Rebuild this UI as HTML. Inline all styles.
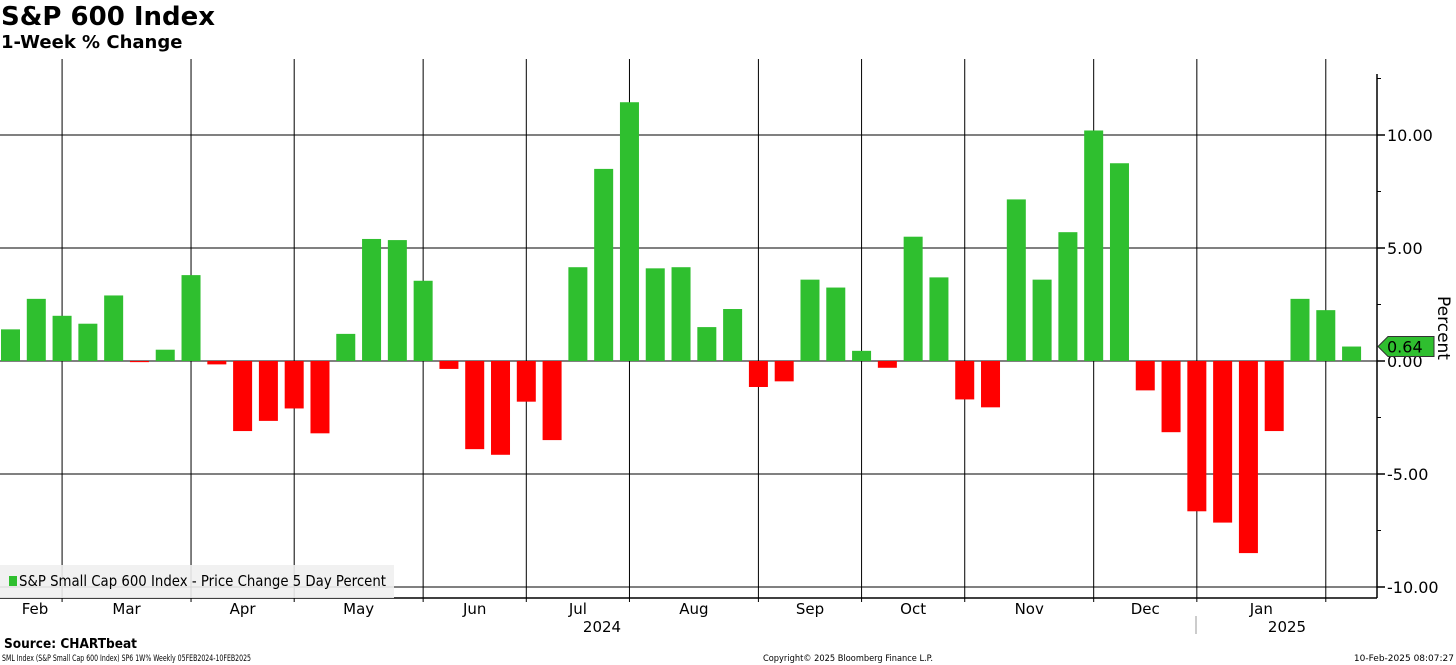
<!DOCTYPE html>
<html><head><meta charset="utf-8"><style>
body{margin:0;background:#fff;font-family:"Liberation Sans","DejaVu Sans",sans-serif;}
#wrap{position:relative;width:1456px;height:665px;overflow:hidden;}
.t{position:absolute;white-space:nowrap;}
</style></head><body>
<div id="wrap">
<div class="t" style="left:1px;top:2px;font-size:26px;font-weight:bold;font-family:'DejaVu Sans',sans-serif;">S&amp;P 600 Index</div>
<div class="t" style="left:1px;top:32px;font-size:18px;font-weight:bold;font-family:'DejaVu Sans',sans-serif;">1-Week % Change</div>
<svg id="svg" width="1456" height="665" style="position:absolute;left:0;top:0"></svg>
</div>
<script>
const values=[1.4,2.75,2.0,1.65,2.9,-0.05,0.5,3.8,-0.15,-3.1,-2.65,-2.1,-3.2,1.2,5.4,5.35,3.55,-0.35,-3.9,-4.15,-1.8,-3.5,4.15,8.5,11.45,4.1,4.15,1.5,2.3,-1.15,-0.9,3.6,3.25,0.45,-0.3,5.5,3.7,-1.7,-2.05,7.15,3.6,5.7,10.2,8.75,-1.3,-3.15,-6.65,-7.15,-8.5,-3.1,2.75,2.25,0.64];
const monthStarts=[2,7,11,16,20,24,29,33,37,42,46,51];
const monthLabels=["Feb","Mar","Apr","May","Jun","Jul","Aug","Sep","Oct","Nov","Dec","Jan"];
const yTicks=[10,5,0,-5,-10];
const lastValue="0.64";
const NS="http://www.w3.org/2000/svg";
const svg=document.getElementById('svg');
const plotL=0,plotR=1377,plotT=59,plotB=598;
const y=v=>361-v*22.6;
const xc=i=>10.5+i*25.79;
function mk(tag,attrs,parent){const e=document.createElementNS(NS,tag);for(const k in attrs)e.setAttribute(k,attrs[k]);(parent||svg).appendChild(e);return e;}
yTicks.forEach(v=>{
 const l=mk('line',{x1:plotL,x2:plotR,y1:y(v),y2:y(v),stroke:'#000','stroke-width':1});
 
 
 const tk=mk('line',{x1:plotR,x2:plotR+8,y1:y(v),y2:y(v),stroke:'#000','stroke-width':1.5});
 
 
 const t=mk('text',{x:plotR+10,y:y(v)+6,'font-size':16,'font-family':'DejaVu Sans, sans-serif'});
 t.textContent=v.toFixed(2);
 
 
});
[7.5,2.5,-2.5,-7.5,12.5].forEach(v=>{
 const tk=mk('line',{x1:plotR,x2:plotR+4,y1:y(v),y2:y(v),stroke:'#000','stroke-width':1});
 
 
});
monthStarts.forEach(i=>{
 const l=mk('line',{x1:xc(i),x2:xc(i),y1:plotT,y2:plotB+4,stroke:'#000','stroke-width':1});
 
 
});
monthStarts.forEach((s,k)=>{
 let cx=k===0?35:(xc(monthStarts[k-1])+xc(s))/2;
 const t=mk('text',{x:cx,y:614,'font-size':15,'text-anchor':'middle','font-family':'DejaVu Sans, sans-serif'});
 t.textContent=monthLabels[k];
 
 
});
values.forEach((v,i)=>{
 const top=Math.min(y(v),y(0)),h=Math.max(Math.abs(y(v)-y(0)),1);
 const r=mk('rect',{x:xc(i)-9.5,y:top,width:19,height:h,fill:v>=0?'#2fbf2f':'#ff0000'});
 
 
});
const ax=mk('line',{x1:plotR,x2:plotR,y1:plotT+15,y2:plotB,stroke:'#000','stroke-width':1.5});


const bx=mk('line',{x1:0,x2:plotR,y1:plotB,y2:plotB,stroke:'#000','stroke-width':1.5});


const y1=mk('text',{x:602,y:632,'font-size':15,'text-anchor':'middle','font-family':'DejaVu Sans, sans-serif'});y1.textContent='2024';


const y2=mk('text',{x:1287,y:632,'font-size':15,'text-anchor':'middle','font-family':'DejaVu Sans, sans-serif'});y2.textContent='2025';


const ys=mk('line',{x1:1196,x2:1196,y1:616,y2:634,stroke:'#999','stroke-width':1});


const ty=y(parseFloat(lastValue));
const tag=mk('path',{d:`M1378 ${ty} L1388 ${ty-10} L1434 ${ty-10} L1434 ${ty+10} L1388 ${ty+10} Z`,fill:'#2fbf2f',stroke:'#333','stroke-width':1});


const tt=mk('text',{x:1387,y:ty+6,'font-size':16,'font-family':'DejaVu Sans, sans-serif'});tt.textContent=lastValue;


const yt=mk('text',{x:0,y:0,'font-size':17,'font-family':'DejaVu Sans, sans-serif',transform:'translate(1438,296) rotate(90)'});yt.textContent='Percent';


const lg=mk('rect',{x:0,y:565,width:394,height:33,fill:'#efefef',opacity:0.9});


const ls=mk('rect',{x:9,y:576,width:8,height:10,fill:'#2fbf2f'});


const lt=mk('text',{x:19,y:586,'font-size':15,'font-family':'DejaVu Sans, sans-serif',textLength:367,lengthAdjust:'spacingAndGlyphs'});lt.textContent='S&P Small Cap 600 Index - Price Change 5 Day Percent';


const f1=mk('text',{x:4,y:648,'font-size':13.5,'font-weight':'bold','font-family':'DejaVu Sans, sans-serif',textLength:133,lengthAdjust:'spacingAndGlyphs'});f1.textContent='Source: CHARTbeat';


const f2=mk('text',{x:2,y:661,'font-size':9,'font-family':'DejaVu Sans, sans-serif',textLength:249,lengthAdjust:'spacingAndGlyphs'});f2.textContent='SML Index (S&P Small Cap 600 Index) SP6 1W% Weekly 05FEB2024-10FEB2025';


const f3=mk('text',{x:763,y:661,'font-size':9,'font-family':'DejaVu Sans, sans-serif',textLength:170,lengthAdjust:'spacingAndGlyphs'});f3.textContent='Copyright© 2025 Bloomberg Finance L.P.';


const f4=mk('text',{x:1454,y:661,'font-size':9,'text-anchor':'end','font-family':'DejaVu Sans, sans-serif'});f4.textContent='10-Feb-2025 08:07:27';


</script>
</body></html>
